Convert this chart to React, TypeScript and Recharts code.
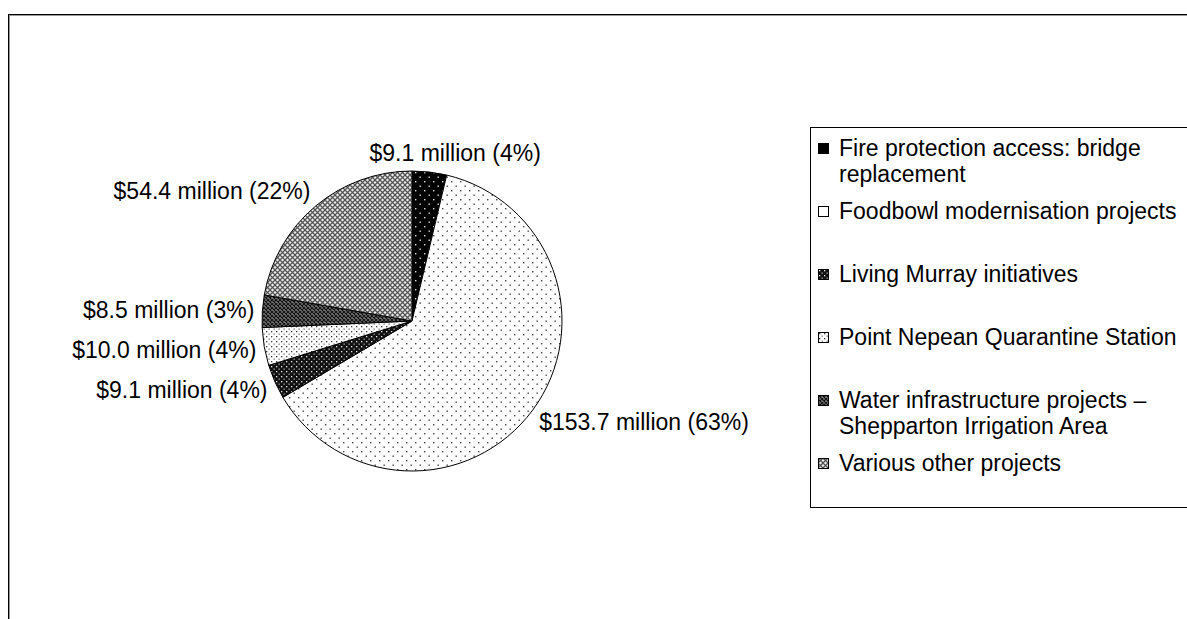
import React from "react";
import { PieChart, Pie, Cell, Legend } from "recharts";

const projects = [
  "Fire protection access: bridge replacement",
  "Foodbowl modernisation projects",
  "Living Murray initiatives",
  "Point Nepean Quarantine Station",
  "Water infrastructure projects – Shepparton Irrigation Area",
  "Various other projects",
];

// $ million
const amounts = [9.1, 153.7, 9.1, 10.0, 8.5, 54.4];

const fills = [
  "url(#pFire)",
  "url(#pFood)",
  "url(#pMurray)",
  "url(#pNepean)",
  "url(#pWater)",
  "url(#pOther)",
];
const legendFills = ["#000", "#fff", "url(#pMurray)", "url(#pNepean)", "url(#pWater)", "url(#pOther)"];

const data = projects.map((name, i) => ({ name, value: amounts[i] }));

const FONT = '"Liberation Sans", Arial, sans-serif';
const RADIAN = Math.PI / 180;

function renderLabel(props: any) {
  const { cx, cy, midAngle, outerRadius, value, percent } = props;
  const dx = Math.cos(-midAngle * RADIAN);
  const dy = Math.sin(-midAngle * RADIAN);
  const r = outerRadius + 8;
  const px = cx + r * dx;
  const py = cy + r * dy;
  let anchor: "start" | "end" | "middle" = "middle";
  let x = px;
  if (Math.abs(dx) >= 0.4) {
    anchor = dx > 0 ? "start" : "end";
  } else {
    x = px + dx * 2.5 * 85;
  }
  const y = py + dy * 11.5;
  return (
    <text
      x={x}
      y={y}
      textAnchor={anchor}
      dominantBaseline="central"
      fill="#000"
      fontSize={23}
      fontFamily={FONT}
    >
      {`$${value.toFixed(1)} million (${Math.round(percent * 100)}%)`}
    </text>
  );
}

// legend drawn from the arrays so it keeps the data order
function LegendBox() {
  return (
    <div
      style={{
        boxSizing: "border-box",
        width: 377,
        height: 381,
        border: "1px solid #000",
        borderRight: "none",
        paddingTop: 7,
        fontFamily: FONT,
        fontSize: 23,
        color: "#000",
      }}
    >
      {projects.map((name, i) => (
        <div key={name} style={{ display: "flex", height: 63, lineHeight: "26px" }}>
          <svg width={11} height={11} style={{ marginLeft: 7, marginTop: 8, marginRight: 10, flex: "none" }}>
            <rect x={0.5} y={0.5} width={10} height={10} fill={legendFills[i]} stroke="#000" />
          </svg>
          <div style={{ width: 345 }}>{name}</div>
        </div>
      ))}
    </div>
  );
}

export default function App() {
  return (
    <div style={{ position: "absolute", left: 0, top: 0, width: 1187, height: 619, background: "#fff" }}>
      <div
        style={{
          position: "absolute",
          left: 8,
          top: 14,
          width: 1179,
          height: 605,
          boxSizing: "border-box",
          borderTop: "1px solid #000",
          borderLeft: "1px solid #000",
          boxShadow: "inset 1px 1px 0 #999",
        }}
      />
      <svg width={0} height={0} style={{ position: "absolute" }}>
        <defs>
          <pattern id="pFire" width="9" height="9" patternUnits="userSpaceOnUse">
            <rect width="9" height="9" fill="#000" />
            <rect x="1" y="1" width="1.4" height="1.4" fill="#ddd" />
            <rect x="5.5" y="5.5" width="1.4" height="1.4" fill="#ddd" />
          </pattern>
          <pattern id="pFood" width="9" height="9" patternUnits="userSpaceOnUse">
            <rect width="9" height="9" fill="#fff" />
            <rect x="1" y="1" width="1.4" height="1.4" fill="#444" />
            <rect x="5.5" y="5.5" width="1.4" height="1.4" fill="#444" />
          </pattern>
          <pattern id="pMurray" width="5" height="5" patternUnits="userSpaceOnUse">
            <rect width="5" height="5" fill="#111" />
            <rect x="1" y="1" width="1.3" height="1.3" fill="#eee" />
            <rect x="3.5" y="3.5" width="1.3" height="1.3" fill="#aaa" />
          </pattern>
          <pattern id="pNepean" width="5" height="5" patternUnits="userSpaceOnUse">
            <rect width="5" height="5" fill="#fff" />
            <rect x="1" y="1" width="1.3" height="1.3" fill="#333" />
            <rect x="3.5" y="3.5" width="1.3" height="1.3" fill="#777" />
          </pattern>
          <pattern id="pWater" width="4" height="4" patternUnits="userSpaceOnUse">
            <rect width="4" height="4" fill="#777" />
            <path d="M0,0 L4,4 M4,0 L0,4" stroke="#111" strokeWidth="1.1" />
          </pattern>
          <pattern id="pOther" width="5" height="5" patternUnits="userSpaceOnUse">
            <rect width="5" height="5" fill="#eee" />
            <path d="M0,0 L5,5 M5,0 L0,5" stroke="#555" strokeWidth="1.3" />
          </pattern>
        </defs>
      </svg>
      <PieChart
        width={1187}
        height={619}
        margin={{ top: 0, right: 0, bottom: 0, left: 0 }}
        style={{ position: "absolute", left: 0, top: 0 }}
      >
        <Pie
          data={data}
          dataKey="value"
          nameKey="name"
          cx={412}
          cy={321}
          outerRadius={150}
          startAngle={90}
          endAngle={-270}
          stroke="#000"
          strokeWidth={1}
          label={renderLabel}
          labelLine={false}
          isAnimationActive={false}
        >
          {data.map((d, i) => (
            <Cell key={d.name} fill={fills[i]} />
          ))}
        </Pie>
        <Legend
          layout="vertical"
          verticalAlign="middle"
          align="right"
          content={<LegendBox />}
          wrapperStyle={{ left: 810, top: 127, right: "auto", bottom: "auto", width: 377 }}
        />
      </PieChart>
    </div>
  );
}
